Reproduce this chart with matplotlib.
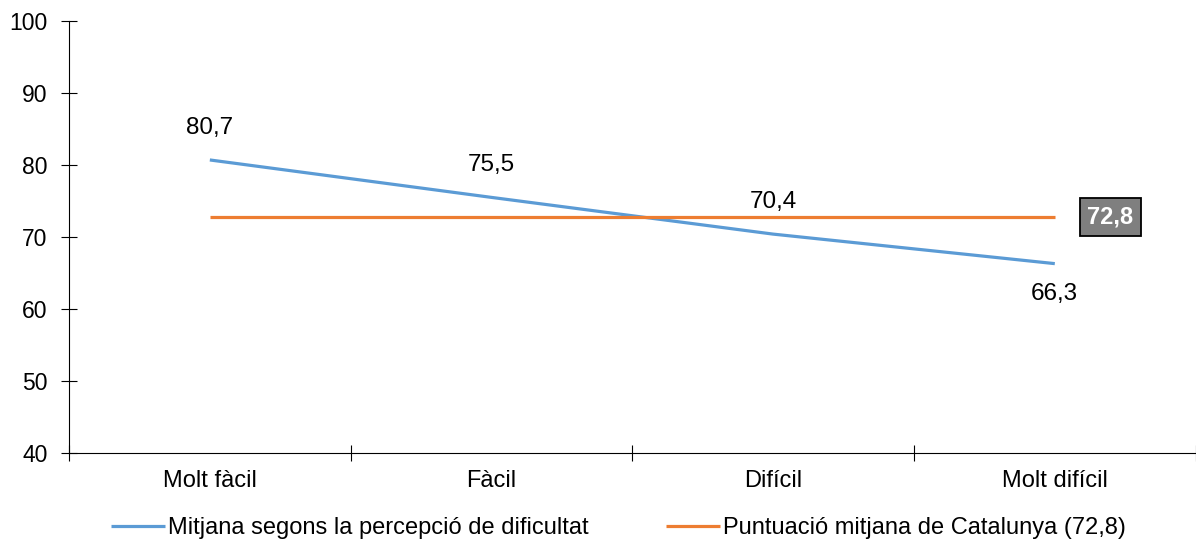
import numpy as np
import matplotlib.pyplot as plt

plt.rcParams['font.family'] = ['Liberation Sans', 'DejaVu Sans']

categories = ['Molt fàcil', 'Fàcil', 'Difícil', 'Molt difícil']
mitjana = [80.7, 75.5, 70.4, 66.3]
catalunya = 72.8
label_pos = ['above', 'above', 'above', 'below']

blue = '#5B9BD5'
orange = '#ED7D31'

fig = plt.figure(figsize=(11.96, 5.44), dpi=100)
ax = fig.add_axes([0.0577, 0.1673, 0.942, 0.7941])

x = np.arange(len(categories))
ax.plot(x, mitjana, color=blue, lw=2.3, solid_capstyle='butt',
        label='Mitjana segons la percepció de dificultat')
ax.plot(x, [catalunya] * len(x), color=orange, lw=2.3, solid_capstyle='butt',
        label='Puntuació mitjana de Catalunya (72,8)')

# etiquetes de valor
for xi, v, pos in zip(x, mitjana, label_pos):
    txt = f'{v:.1f}'.replace('.', ',')
    off = 23 if pos == 'above' else -22
    ax.annotate(txt, (xi, v), xytext=(0, off), textcoords='offset points',
                ha='center', va='center', fontsize=17.5)

ax.annotate(f'{catalunya:.1f}'.replace('.', ','), (x[-1], catalunya),
            xytext=(40, 0), textcoords='offset points', ha='center', va='center',
            fontsize=17, fontweight='bold', color='white',
            bbox=dict(boxstyle='square,pad=0.33', fc='#7F7F7F', ec='black', lw=1.3))

ax.set_xlim(-0.5, len(categories) - 0.5)
ax.set_ylim(40, 100)
ax.set_yticks(np.arange(40, 101, 10))
ax.set_xticks(np.arange(-0.5, len(categories), 1))
ax.set_xticklabels([])
ax.set_xticks(x, minor=True)
ax.set_xticklabels(categories, minor=True)
ax.tick_params(axis='x', which='minor', length=0, pad=12, labelsize=17)
ax.tick_params(axis='x', which='major', direction='inout', length=11, width=0.8)
ax.tick_params(axis='y', direction='inout', length=11, width=0.8, labelsize=16.5, pad=10)

for s in ['top', 'right']:
    ax.spines[s].set_visible(False)
for s in ['left', 'bottom']:
    ax.spines[s].set_linewidth(0.8)

fig.legend(loc='lower center', bbox_to_anchor=(0.517, -0.03), ncol=2, frameon=False,
           fontsize=17, handlelength=2.3, handletextpad=0.1, columnspacing=3.3)

fig.savefig('out.png', dpi=100)
